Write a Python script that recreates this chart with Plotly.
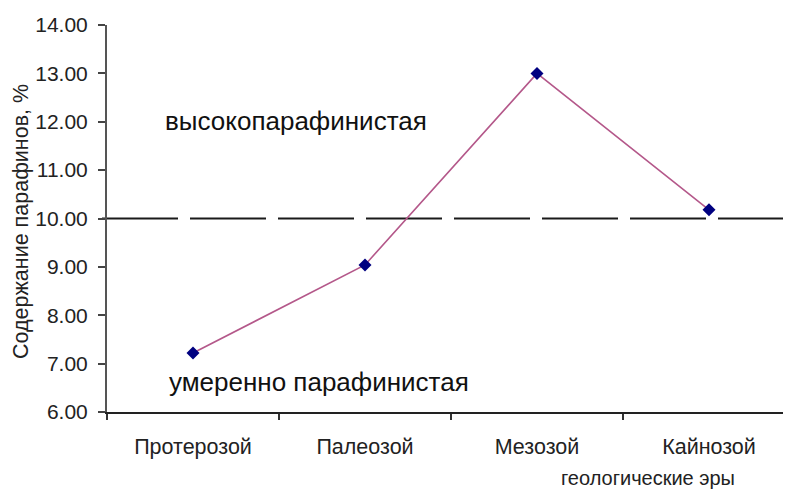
import plotly.graph_objects as go

eras = ["Протерозой", "Палеозой", "Мезозой", "Кайнозой"]
paraffin = [7.22, 9.04, 13.00, 10.18]
threshold = 10.0
y_ticks = [6, 7, 8, 9, 10, 11, 12, 13, 14]

# page body adds an 8px margin; compensate so the plot lands where the reference has it
OFF = 8
W, H = 791 - OFF, 489 - OFF
ML, MR, MT, MB = 107 - OFF, 0, 25 - OFF, 77
PW = W - ML - MR
PH = H - MT - MB

def px(xp):
    return (xp - OFF - ML) / PW

def py(yp):
    return (H - MB - (yp - OFF)) / PH

FONT = "Liberation Sans, Arial, sans-serif"

fig = go.Figure()
fig.add_trace(go.Scatter(
    x=eras, y=paraffin, mode="lines+markers",
    line=dict(color="#b4588a", width=1.6),
    marker=dict(symbol="diamond", size=10, color="#000080"),
    showlegend=False, cliponaxis=False,
))

fig.add_shape(type="line", xref="paper", yref="y",
              x0=px(102), x1=1.0, y0=threshold, y1=threshold,
              line=dict(color="#1a1a1a", width=2, dash="76px,12px"),
              layer="below")

fig.add_annotation(text="высокопарафинистая", xref="paper", yref="paper",
                   x=px(163), y=py(121), xanchor="left", yanchor="middle",
                   showarrow=False, font=dict(family=FONT, size=26, color="#111"))
fig.add_annotation(text="умеренно парафинистая", xref="paper", yref="paper",
                   x=px(167), y=py(382), xanchor="left", yanchor="middle",
                   showarrow=False, font=dict(family=FONT, size=26, color="#111"))
fig.add_annotation(text="геологические эры", xref="paper", yref="paper",
                   x=px(648), y=py(478), xanchor="center", yanchor="middle",
                   showarrow=False, borderpad=0,
                   font=dict(family=FONT, size=20, color="#222"))
fig.add_annotation(text="Содержание парафинов, %", xref="paper", yref="paper",
                   x=px(21), y=py(222), xanchor="center", yanchor="middle",
                   textangle=-90, showarrow=False,
                   font=dict(family=FONT, size=21.5, color="#222"))

fig.update_layout(
    width=W, height=H,
    margin=dict(l=ML, r=MR, t=MT, b=MB),
    paper_bgcolor="white", plot_bgcolor="white",
    font=dict(family=FONT, color="#222"),
    xaxis=dict(
        type="category", range=[-0.5, -0.5 + PW / 172.0],
        tickson="boundaries", ticks="outside", ticklen=6, tickwidth=1.5,
        tickcolor="#333", showline=True, linecolor="#222", linewidth=1.6,
        showgrid=False, zeroline=False, tickfont=dict(size=21.5, color="#222"),
        ticklabelstandoff=14,
    ),
    yaxis=dict(
        range=[6, 14], tickvals=y_ticks, tickformat=".2f",
        ticks="outside", ticklen=7, tickwidth=1.5, tickcolor="#444",
        showline=True, linecolor="#555", linewidth=2,
        showgrid=False, zeroline=False, tickfont=dict(size=21, color="#222"),
        ticklabelstandoff=6,
    ),
)

fig.write_html("out.html")
